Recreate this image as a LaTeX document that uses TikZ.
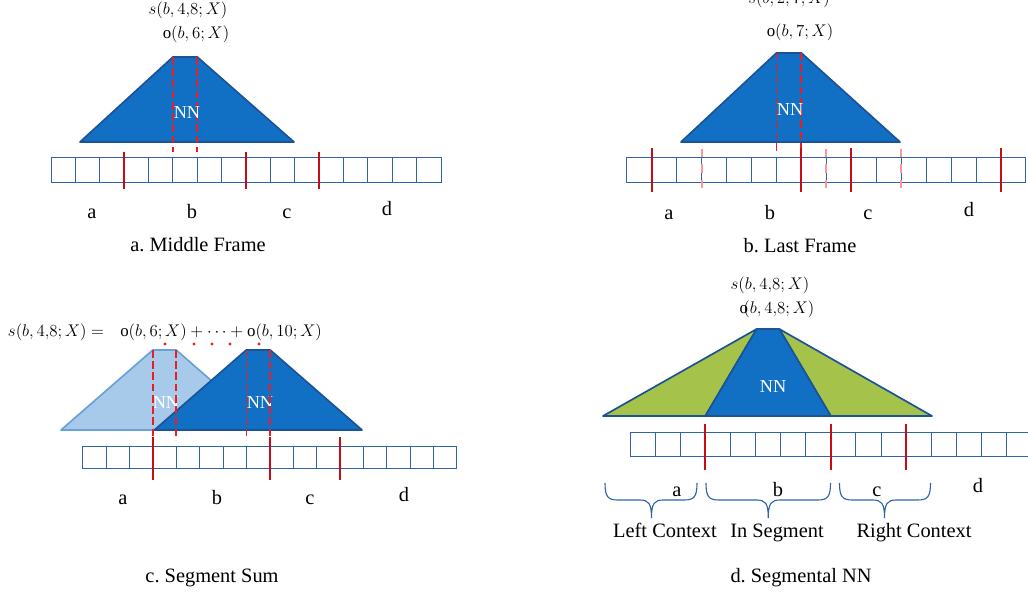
\documentclass[tikz,border=0pt]{standalone}
\usepackage{fontspec}
\setmainfont{Liberation Serif}
\usepackage{amsmath}

\definecolor{nnblue}{RGB}{18,112,196}
\definecolor{nnedge}{RGB}{28,82,150}
\definecolor{lightnn}{RGB}{167,201,234}
\definecolor{lightedge}{RGB}{105,162,218}
\definecolor{ctxgreen}{RGB}{165,194,74}
\definecolor{cellblue}{RGB}{46,100,170}
\definecolor{segred}{RGB}{200,12,22}
\definecolor{frmred}{RGB}{236,28,36}
\definecolor{oldpink}{RGB}{250,152,152}

\tikzset{
  cell/.style={draw=cellblue, line width=0.6pt},
  segline/.style={draw=segred, line width=1.5pt},
  frmline/.style={draw=frmred, line width=1.1pt, dash pattern=on 5.5pt off 2.5pt},
  oldline/.style={draw=oldpink, line width=1.5pt, dash pattern=on 6pt off 5pt},
  nnbox/.style={fill=nnblue, draw=nnedge, line width=1.2pt, line join=round},
  nnfaint/.style={fill=lightnn, draw=lightedge, line width=1.2pt, line join=round},
  ctxbox/.style={fill=ctxgreen, draw=nnedge, line width=1.2pt, line join=round},
  nnlbl/.style={text=white, font=\fontsize{13}{15}\selectfont},
  mlbl/.style={anchor=base, font=\fontsize{12}{14}\selectfont},
  lbl/.style={anchor=base, font=\fontsize{14.5}{16}\selectfont},
  brc/.style={draw=cellblue, line width=0.8pt}
}

% brace under the frames: left end, tip, right end
\newcommand{\ctxbrace}[3]{%
  \draw[brc] (#1,483) .. controls (#1,497) and ({#1+3},500) .. ({#1+13},500)
    -- ({#2-12},500) .. controls ({#2-3},500) and (#2,503) .. (#2,518)
    .. controls (#2,503) and ({#2+3},500) .. ({#2+12},500)
    -- ({#3-13},500) .. controls ({#3-3},500) and (#3,497) .. (#3,483);}

\begin{document}
\begin{tikzpicture}[x=0.025cm,y=-0.025cm]
\useasboundingbox (0,0) rectangle (1028,596);

% a. Middle Frame
\draw[cell] (51,157) rectangle (441,182);
\foreach \i in {1,...,15}
  \draw[cell] ({51+24.375*\i},157) -- ++(0,25);
\filldraw[nnbox] (80,142) -- (172.9,57) -- (197.3,57) -- (294,142) -- cycle;
\draw[frmline] (172.9,57) -- (172.9,152);
\draw[frmline] (197.2,57) -- (197.2,152);
\foreach \k in {3,8,11}
  \draw[segline] ({51+24.375*\k},152) -- ++(0,37);
\node[nnlbl] (nnA) at (187,113) {NN};
\node[mlbl] (sA) at (188,15) {$s(b,4{,}8;X)$};
\node[mlbl] (oA) at (196,39) {$\mathrm{o}(b,6;X)$};
\node[lbl] (aA) at (92,219) {a};
\node[lbl] (bA) at (192,219) {b};
\node[lbl] (cA) at (287,219) {c};
\node[lbl] (dA) at (387,216) {d};
\node[lbl] (capA) at (198,252) {a.\ Middle Frame};

% b. Last Frame
\draw[cell] (626.7,157) rectangle (1025.9,182);
\foreach \i in {1,...,15}
  \draw[cell] ({626.7+24.95*\i},157) -- ++(0,25);
\filldraw[nnbox] (681,142) -- (776.4,53) -- (801.4,53) -- (900,142) -- cycle;
\draw[frmline] (776.4,53) -- (776.4,151);
\draw[frmline] (801.2,53) -- (801.2,151);
\foreach \k in {3,8,11}
  \draw[oldline] ({626.7+24.95*\k},149) -- ++(0,43);
\foreach \k in {1,7,9,15}
  \draw[segline] ({626.7+24.95*\k},148) -- ++(0,44);
\node[nnlbl] (nnB) at (790,110) {NN};
\node[mlbl] (sB) at (789,4) {$s(b,2,7;X)$};
\node[mlbl] (oB) at (800,37) {$\mathrm{o}(b,7;X)$};
\node[lbl] (aB) at (669,220) {a};
\node[lbl] (bB) at (770,220) {b};
\node[lbl] (cB) at (868,220) {c};
\node[lbl] (dB) at (969,217) {d};
\node[lbl] (capB) at (800,253) {b.\ Last Frame};

% c. Segment Sum
\draw[cell] (82.7,446) rectangle (456.7,468.5);
\foreach \i in {1,...,15}
  \draw[cell] ({82.7+23.375*\i},446) -- ++(0,22.5);
\filldraw[nnfaint] (61,430) -- (152.8,350) -- (176.2,350) -- (268,430) -- cycle;
\node[nnlbl] (nnC1) at (166,403) {NN};
\filldraw[nnbox] (154.4,430) -- (246.3,350) -- (270.2,350) -- (362,430) -- cycle;
\node[nnlbl] (nnC2) at (260,403) {NN};
\draw[frmline] (152.8,350) -- (152.8,440);
\draw[frmline] (176.2,350) -- (176.2,440);
\draw[frmline] (246.3,350) -- (246.3,440);
\draw[frmline] (270.1,350) -- (270.1,440);
\foreach \k in {3,8,11}
  \draw[segline] ({82.7+23.375*\k},437) -- ++(0,43);
\foreach \x in {165,194,212,230,259}
  \fill[frmred] (\x,344) circle (1.1pt);
\node[mlbl, anchor=base west] (sC) at (3,337) {$s(b,4{,}8;X) =$};
\node[mlbl] (oC) at (221,337) {$\mathrm{o}(b,6;X) + \cdots + \mathrm{o}(b,10;X)$};
\node[lbl] (aC) at (123,505) {a};
\node[lbl] (bC) at (217,505) {b};
\node[lbl] (cC) at (310,505) {c};
\node[lbl] (dC) at (404,502) {d};
\node[lbl] (capC) at (212,583) {c.\ Segment Sum};

% d. Segmental NN
\draw[cell] (630,432) rectangle (1031.6,456);
\foreach \i in {1,...,15}
  \draw[cell] ({630+25.1*\i},432) -- ++(0,24);
\filldraw[ctxbox] (603,416) -- (756.7,329) -- (705.3,416) -- cycle;
\filldraw[ctxbox] (779.3,329) -- (932,416) -- (830.8,416) -- cycle;
\filldraw[nnbox] (705.3,416) -- (756.7,329) -- (779.3,329) -- (830.8,416) -- cycle;
\foreach \k in {3,8,11}
  \draw[segline] ({630+25.1*\k},424) -- ++(0,46);
\node[nnlbl] (nnD) at (773,387) {NN};
\node[mlbl] (sD) at (770,290) {$s(b,4{,}8;X)$};
\node[mlbl] (oD) at (777,314) {$\mathrm{o}\mkern-5mu(b,4{,}8;X)$};
\ctxbrace{605}{651.5}{697}
\ctxbrace{706}{768.3}{830.5}
\ctxbrace{839.5}{884.5}{930.5}
\node[lbl] (aD) at (677,497) {a};
\node[lbl] (bD) at (778,497) {b};
\node[lbl] (cD) at (877,497) {c};
\node[lbl] (dD) at (978,493) {d};
\node[lbl] (leftD) at (665,538) {Left Context};
\node[lbl] (inD) at (777,538) {In Segment};
\node[lbl] (rightD) at (914,538) {Right Context};
\node[lbl] (capD) at (801,583) {d.\ Segmental NN};
\end{tikzpicture}
\end{document}
